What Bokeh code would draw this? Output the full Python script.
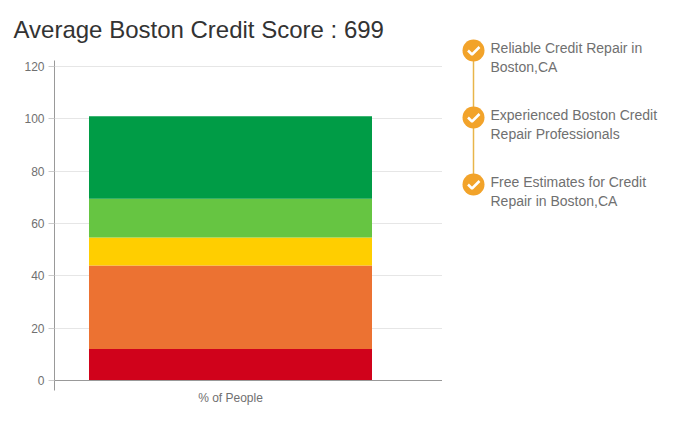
from bokeh.plotting import figure
from bokeh.layouts import row
from bokeh.models import Range1d, FixedTicker, Span, Title
from bokeh.embed import file_html
from bokeh.resources import INLINE
from bokeh.core.properties import value

categories = ["% of People"]
bands = ["Very Poor", "Poor", "Fair", "Good", "Excellent"]
band_values = [[12], [32], [10.7], [14.8], [31.5]]
colors = ["#D0021B", "#EC7232", "#FFCE00", "#66C542", "#009C46"]
y_ticks = [0, 20, 40, 60, 80, 100, 120]
title_text = "Average Boston Credit Score : 699"
features = [
    ["Reliable Credit Repair in", "Boston,CA"],
    ["Experienced Boston Credit", "Repair Professionals"],
    ["Free Estimates for Credit", "Repair in Boston,CA"],
]

FONT = "Liberation Sans"
p = figure(width=442, height=424, output_backend="svg", toolbar_location=None,
           x_range=Range1d(-0.6219, 0.7491), y_range=Range1d(-3.82, 122.3),
           min_border_left=54, min_border_right=0, min_border_top=60, min_border_bottom=34,
           frame_align=False)
p.outline_line_color = None
p.background_fill_color = "white"

data = {"x": list(range(len(categories)))}
for name, vals in zip(bands, band_values):
    data[name] = vals
p.vbar_stack(bands, x="x", width=1.0, color=colors, line_color=None, source=data)

p.xgrid.visible = False
p.ygrid.grid_line_color = "#E6E6E6"
p.ygrid.grid_line_width = 1
p.ygrid.ticker = FixedTicker(ticks=y_ticks)
p.ygrid.level = "underlay"

p.yaxis.ticker = FixedTicker(ticks=y_ticks)
p.yaxis.axis_line_color = "#999999"
p.yaxis.major_tick_line_color = "#CCCCCC"
p.yaxis.major_tick_in = 0
p.yaxis.major_tick_out = 6
p.yaxis.minor_tick_line_color = None
p.yaxis.major_label_text_font = FONT
p.yaxis.major_label_text_font_size = "12px"
p.yaxis.major_label_text_color = "#707070"
p.yaxis.major_label_standoff = 4

p.xaxis.ticker = FixedTicker(ticks=data["x"])
p.xaxis.major_label_overrides = {i: c for i, c in enumerate(categories)}
p.xaxis.axis_line_color = None
p.xaxis.major_tick_line_color = None
p.xaxis.major_tick_in = 0
p.xaxis.major_tick_out = 0
p.xaxis.minor_tick_line_color = None
p.xaxis.major_label_text_font = FONT
p.xaxis.major_label_text_font_size = "12px"
p.xaxis.major_label_text_color = "#707070"
p.xaxis.major_label_standoff = 0

p.add_layout(Span(location=0, dimension="width", line_color="#999999", line_width=1))
p.add_layout(Title(text=title_text, text_font=FONT, text_font_size="24px", text_font_style="normal",
                   text_color="#333333", align="left", offset=-41, standoff=31,
                   vertical_align="top"), "above")

# side list: data units equal page pixels
side = figure(width=250, height=424, output_backend="svg", toolbar_location=None,
              x_range=Range1d(442, 692), y_range=Range1d(424, 0),
              min_border=0, x_axis_type=None, y_axis_type=None, frame_align=False)
side.outline_line_color = None
side.grid.visible = False
cy = [50, 117, 184]
side.line([473] * 3, cy, line_color="#E8B54A", line_width=1.5)
side.scatter([473] * 3, cy, size=22, marker="circle", fill_color="#F2A32A", line_color=None)
side.multi_line([[467.5, 471.5, 479] for _ in cy], [[c, c + 4, c - 3.5] for c in cy],
                line_color="white", line_width=2.5)
xs, ys, ts = [], [], []
for c, lines in zip(cy, features):
    for i, t in enumerate(lines):
        xs.append(490); ys.append(c - 3 + i * 19); ts.append(t)
side.text(xs, ys, text=ts, text_font=value(FONT), text_font_size="14px", text_color="#707070",
          text_baseline="middle", text_align="left")

open("out.html", "w").write(file_html(row(p, side, spacing=0), INLINE))
